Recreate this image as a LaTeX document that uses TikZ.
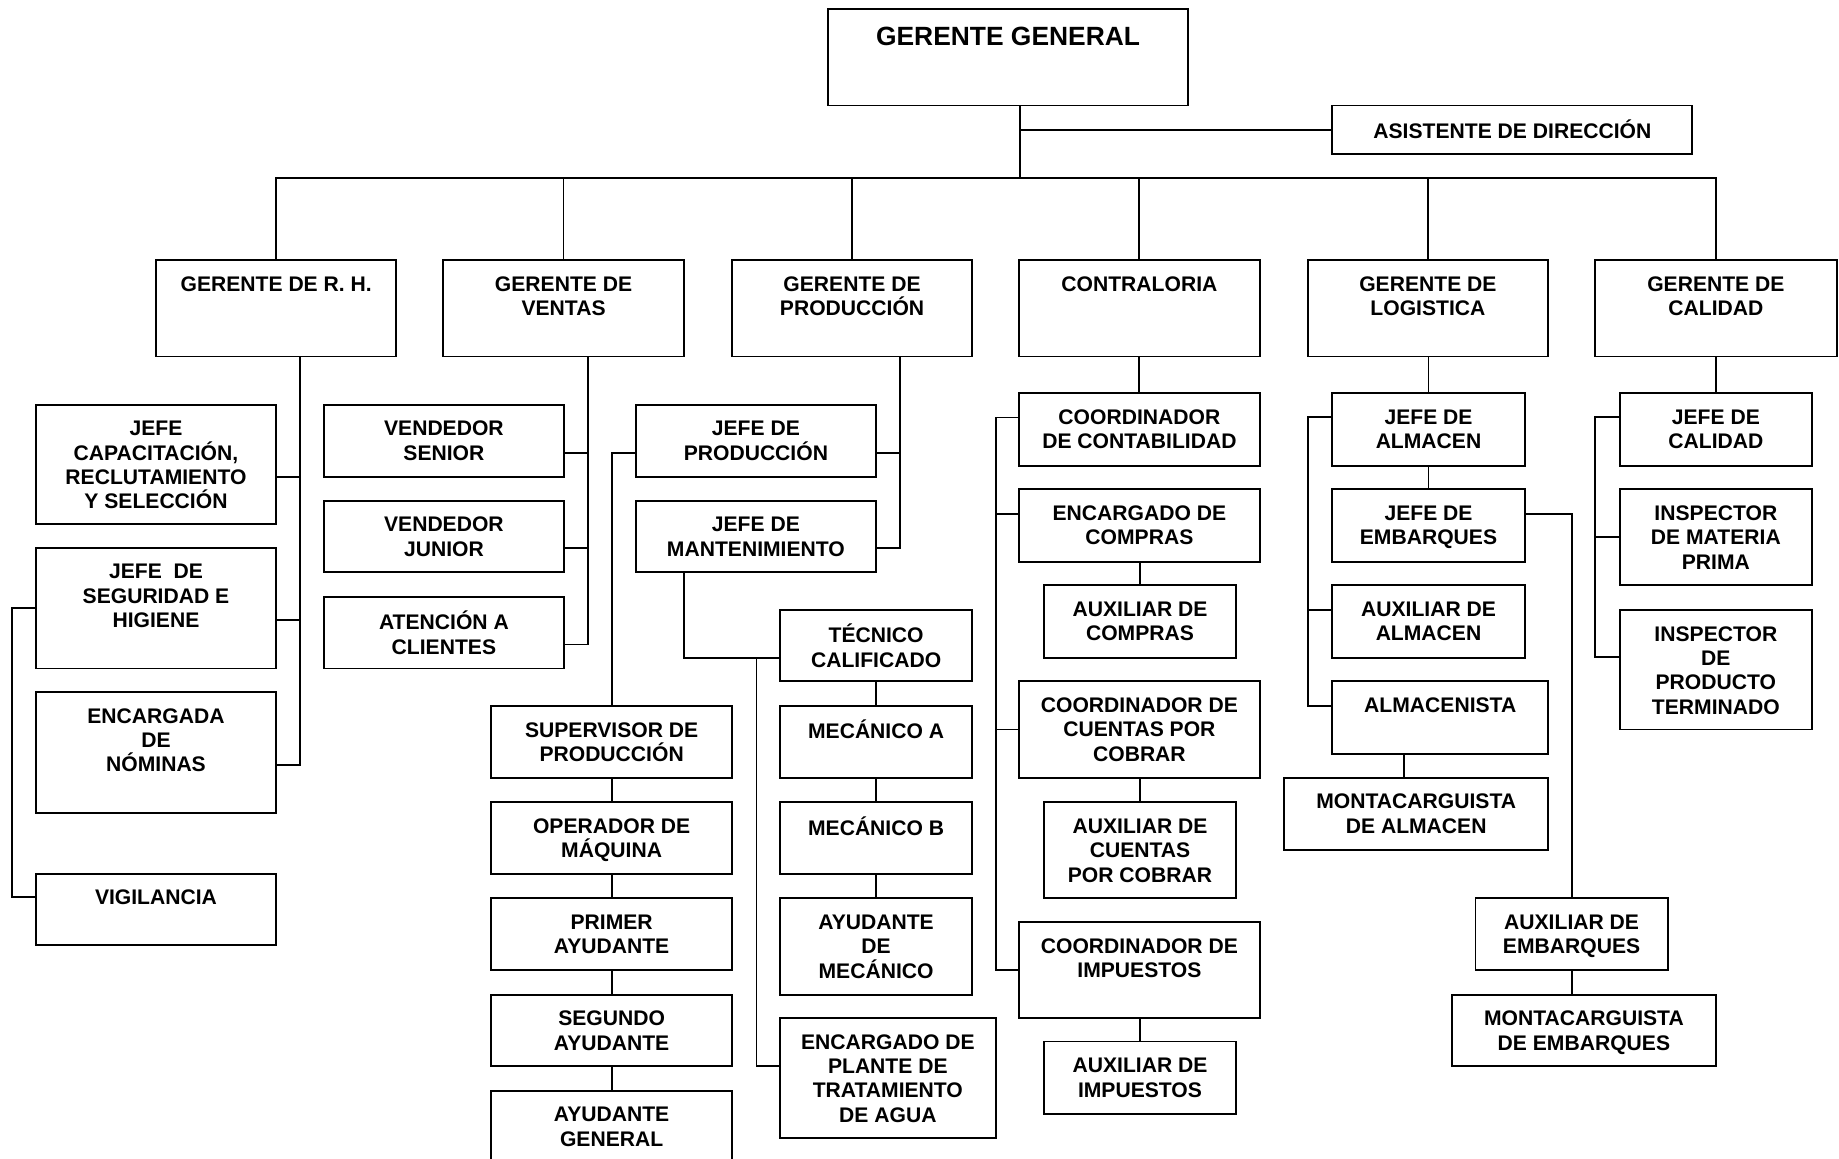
\documentclass[tikz,border=0pt]{standalone}
\usepackage{fontspec}
\setmainfont{Liberation Sans}

% \orgunit{name}{x1}{y1}{x2}{y2}{text}: framed unit, label set near its top edge
\newcommand\orgunit[6]{%
  \node[unitbox, minimum width={(#4)-(#2)}, minimum height={(#5)-(#3)}]
    (#1) at ({((#2)+(#4))/2},{((#3)+(#5))/2}) {};
  \node[unitlbl] (#1t) at ([yshift=-11.8pt]#1.north) {\strut #6};
}

\begin{document}
\begin{tikzpicture}[x=1pt, y=-1pt,
  unitbox/.style={draw, line width=1.6pt, inner sep=0pt, outer sep=0pt},
  unitlbl/.style={font=\fontsize{18}{20.8}\selectfont\bfseries\setlength\lineskiplimit{-100pt}\relax,
                  align=center, inner sep=0pt, anchor=north},
  link/.style={line width=1.6pt}]

\useasboundingbox (0,0) rectangle (1568,988);

% ---------- top management ----------
\node[unitbox, minimum width=307, minimum height=82] (gg) at (859.5,49) {};
\node[unitlbl, font=\fontsize{22.5}{26}\selectfont\bfseries] (ggt)
  at ([yshift=-12.8pt]gg.north) {\strut GERENTE GENERAL};
\orgunit{asis}{1136}{90}{1443}{131}{ASISTENTE DE DIRECCIÓN}

% ---------- managers ----------
\orgunit{rh}{133}{222}{338}{304}{GERENTE DE R. H.}
\orgunit{ven}{378}{222}{583}{304}{GERENTE DE\\VENTAS}
\orgunit{prod}{624}{222}{829}{304}{GERENTE DE\\PRODUCCIÓN}
\orgunit{con}{869}{222}{1074}{304}{CONTRALORIA}
\orgunit{log}{1115}{222}{1320}{304}{GERENTE DE\\LOGISTICA}
\orgunit{cal}{1360}{222}{1566}{304}{GERENTE DE\\CALIDAD}

% ---------- human resources ----------
\orgunit{jcap}{31}{345}{235}{447}{JEFE\\CAPACITACIÓN,\\RECLUTAMIENTO\\Y SELECCIÓN}
\orgunit{jseg}{31}{467}{235}{570}{JEFE\ \ DE\\SEGURIDAD E\\HIGIENE}
\orgunit{nom}{31}{590}{235}{693}{ENCARGADA\\DE\\NÓMINAS}
\orgunit{vig}{31}{745}{235}{806}{VIGILANCIA}

% ---------- sales ----------
\orgunit{vs}{276}{345}{481}{407}{VENDEDOR\\SENIOR}
\orgunit{vj}{276}{427}{481}{488}{VENDEDOR\\JUNIOR}
\orgunit{ac}{276}{509}{481}{570}{ATENCIÓN A\\CLIENTES}

% ---------- production ----------
\orgunit{jprod}{542}{345}{747}{407}{JEFE DE\\PRODUCCIÓN}
\orgunit{jmant}{542}{427}{747}{488}{JEFE DE\\MANTENIMIENTO}
\orgunit{sup}{419}{602}{624}{663}{SUPERVISOR DE\\PRODUCCIÓN}
\orgunit{opm}{419}{684}{624}{745}{OPERADOR DE\\MÁQUINA}
\orgunit{pri}{419}{766}{624}{827}{PRIMER\\AYUDANTE}
\orgunit{seg}{419}{848}{624}{909}{SEGUNDO\\AYUDANTE}
\orgunit{ayg}{419}{930}{624}{993}{AYUDANTE\\GENERAL}
\orgunit{tec}{665}{520}{829}{581}{TÉCNICO\\CALIFICADO}
\orgunit{meca}{665}{602}{829}{663}{MECÁNICO A}
\orgunit{mecb}{665}{684}{829}{745}{MECÁNICO B}
\orgunit{aym}{665}{766}{829}{848}{AYUDANTE\\DE\\MECÁNICO}
\orgunit{epl}{665}{868}{849}{970}{ENCARGADO DE\\PLANTE DE\\TRATAMIENTO\\DE AGUA}

% ---------- comptroller ----------
\orgunit{ccont}{869}{335}{1074}{397}{COORDINADOR\\DE CONTABILIDAD}
\orgunit{encc}{869}{417}{1074}{479}{ENCARGADO DE\\COMPRAS}
\orgunit{auxc}{890}{499}{1054}{561}{AUXILIAR DE\\COMPRAS}
\orgunit{ccxc}{869}{581}{1074}{663}{COORDINADOR DE\\CUENTAS POR\\COBRAR}
\orgunit{axc}{890}{684}{1054}{766}{AUXILIAR DE\\CUENTAS\\POR COBRAR}
\orgunit{cimp}{869}{786}{1074}{868}{COORDINADOR DE\\IMPUESTOS}
\orgunit{aimp}{890}{888}{1054}{950}{AUXILIAR DE\\IMPUESTOS}

% ---------- logistics ----------
\orgunit{jalm}{1136}{335}{1300}{397}{JEFE DE\\ALMACEN}
\orgunit{jemb}{1136}{417}{1300}{479}{JEFE DE\\EMBARQUES}
\orgunit{auxa}{1136}{499}{1300}{561}{AUXILIAR DE\\ALMACEN}
\orgunit{almc}{1136}{581}{1320}{643}{ALMACENISTA}
\orgunit{mta}{1095}{663}{1320}{725}{MONTACARGUISTA\\DE ALMACEN}
\orgunit{aemb}{1258}{766}{1422}{827}{AUXILIAR DE\\EMBARQUES}
\orgunit{mte}{1238}{848}{1463}{909}{MONTACARGUISTA\\DE EMBARQUES}

% ---------- quality ----------
\orgunit{jcal}{1381}{335}{1545}{397}{JEFE DE\\CALIDAD}
\orgunit{imp}{1381}{417}{1545}{499}{INSPECTOR\\DE MATERIA\\PRIMA}
\orgunit{ipt}{1381}{520}{1545}{622}{INSPECTOR\\DE\\PRODUCTO\\TERMINADO}

% ---------- connectors: top ----------
\coordinate (bus) at (0,152);
\coordinate (ggx) at (870,0);
\draw[link] (gg.south -| ggx) -- (ggx |- bus);
\draw[link] (ggx |- asis.west) -- (asis.west);
\draw[link] (rh.north) |- (ggx |- bus) -| (cal.north);
\foreach \n in {ven,prod,con,log}
  \draw[link] (\n.north) -- (\n.north |- bus);

% ---------- connectors: human resources ----------
\coordinate (rhx) at (256,0);
\coordinate (rhl) at (10,0);
\coordinate (jcapp) at ([yshift=-10.5pt]jcap.east);
\coordinate (jsegp) at ([yshift=-10.5pt]jseg.east);
\coordinate (nomp) at ([yshift=-10.5pt]nom.east);
\coordinate (vigp) at ([yshift=10.5pt]vig.west);
\draw[link] (rh.south -| rhx) |- (nomp);
\draw[link] (jcapp) -- (jcapp -| rhx);
\draw[link] (jsegp) -- (jsegp -| rhx);
\draw[link] (jseg.west) -| (vigp -| rhl) -- (vigp);

% ---------- connectors: sales ----------
\coordinate (venx) at (501,0);
\coordinate (vsp) at ([yshift=-10pt]vs.east);
\coordinate (vjp) at ([yshift=-10pt]vj.east);
\coordinate (acp) at ([yshift=-10pt]ac.east);
\draw[link] (ven.south -| venx) |- (acp);
\draw[link] (vsp) -- (vsp -| venx);
\draw[link] (vjp) -- (vjp -| venx);

% ---------- connectors: production ----------
\coordinate (prodx) at (767,0);
\coordinate (jpe) at ([yshift=-10pt]jprod.east);
\coordinate (jme) at ([yshift=-10pt]jmant.east);
\coordinate (jpw) at ([yshift=-10pt]jprod.west);
\draw[link] (prod.south -| prodx) |- (jme);
\draw[link] (jpe) -- (jpe -| prodx);
\draw[link] (jpw) -| (sup.north);
\draw[link] (sup.south) -- (opm.north);
\draw[link] (opm.south) -- (pri.north);
\draw[link] (pri.south) -- (seg.north);
\draw[link] (seg.south) -- (ayg.north);
\coordinate (mantx) at (583,0);
\coordinate (tecx) at (645,0);
\coordinate (tecw) at ([yshift=-10.5pt]tec.west);
\coordinate (eplw) at ([yshift=10pt]epl.west);
\draw[link] (jmant.south -| mantx) |- (tecw);
\draw[link] (tecw -| tecx) |- (eplw);
\draw[link] (tec.south) -- (meca.north);
\draw[link] (meca.south) -- (mecb.north);
\draw[link] (mecb.south) -- (aym.north);

% ---------- connectors: comptroller ----------
\coordinate (conx) at (849,0);
\coordinate (ccw) at ([yshift=10pt]ccont.west);
\coordinate (ecw) at ([yshift=10pt]encc.west);
\draw[link] (con.south) -- (ccont.north);
\draw[link] (ccw) -| (conx |- cimp.west) -- (cimp.west);
\draw[link] (ecw) -- (ecw -| conx);
\draw[link] (ccxc.west) -- (ccxc.west -| conx);
\draw[link] (auxc.north) -- (auxc.north |- encc.south);
\draw[link] (axc.north) -- (axc.north |- ccxc.south);
\draw[link] (aimp.north) -- (aimp.north |- cimp.south);

% ---------- connectors: logistics ----------
\coordinate (logx) at (1115,0);
\coordinate (almx) at (1197,0);
\coordinate (jaw) at ([yshift=10.5pt]jalm.west);
\coordinate (aaw) at ([yshift=10pt]auxa.west);
\coordinate (alw) at ([yshift=10pt]almc.west);
\coordinate (jee) at ([yshift=10pt]jemb.east);
\draw[link] (jalm.north) -- (jalm.north |- log.south);
\draw[link] (jalm.south) -- (jemb.north);
\draw[link] (jaw) -| (logx |- alw) -- (alw);
\draw[link] (aaw) -- (aaw -| logx);
\draw[link] (jee) -| (aemb.north);
\draw[link] (almc.south -| almx) -- (mta.north -| almx);
\draw[link] (aemb.south) -- (aemb.south |- mte.north);

% ---------- connectors: quality ----------
\coordinate (calx) at (1360,0);
\coordinate (jcw) at ([yshift=10.5pt]jcal.west);
\coordinate (ipw) at ([yshift=10.5pt]ipt.west);
\draw[link] (cal.south) -- (jcal.north);
\draw[link] (jcw) -| (calx |- ipw) -- (ipw);
\draw[link] (imp.west) -- (imp.west -| calx);

\end{tikzpicture}
\end{document}
